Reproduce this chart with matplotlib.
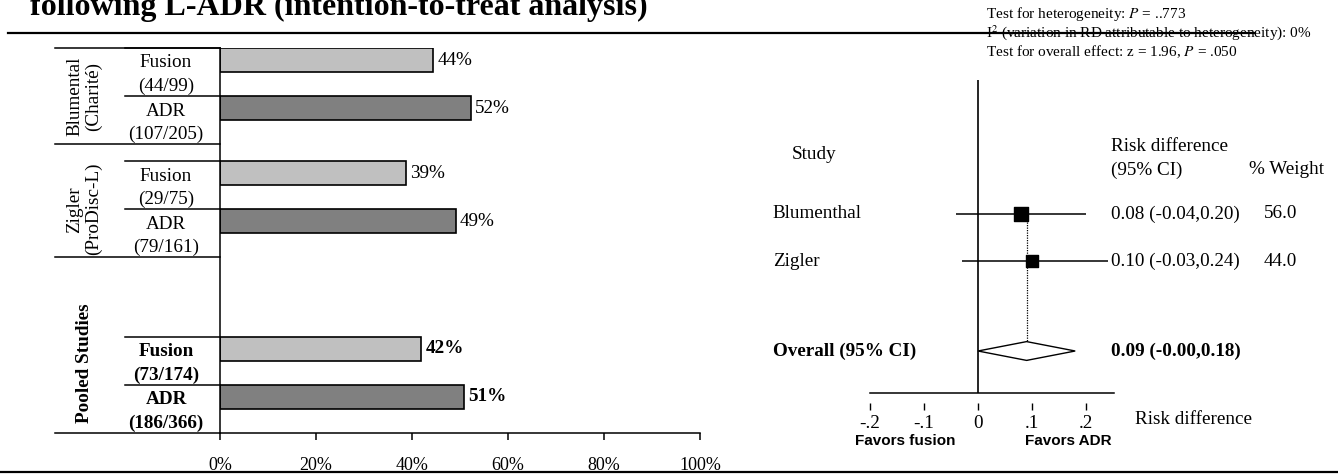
import numpy as np
import matplotlib
matplotlib.use('Agg')
import matplotlib.pyplot as plt
from matplotlib.lines import Line2D
from matplotlib.patches import Polygon

plt.rcParams['font.family'] = ['Liberation Serif', 'DejaVu Serif']
plt.rcParams['mathtext.fontset'] = 'stix'

# ---- bar chart data (intention-to-treat success rates) ----
groups = ['Blumental\n(Charité)', 'Zigler\n(ProDisc-L)', 'Pooled Studies']
arms = ['Fusion', 'ADR']
fusion_events = [44, 29, 73]
fusion_total = [99, 75, 174]
adr_events = [107, 79, 186]
adr_total = [205, 161, 366]
pct_ticks = [0, 20, 40, 60, 80, 100]

# ---- forest plot data (risk difference) ----
studies = ['Blumenthal', 'Zigler']
rd = [0.08, 0.10]
rd_lo = [-0.04, -0.03]
rd_hi = [0.20, 0.24]
weights = [56.0, 44.0]
overall_rd = 0.09
overall_lo = -0.00
overall_hi = 0.18
rd_ticks = [-0.2, -0.1, 0, 0.1, 0.2]
rd_tick_labels = ['-.2', '-.1', '0', '.1', '.2']
het_lines = ['Test for heterogeneity: $P$ = ..773',
             'I$^2$ (variation in RD attributable to heterogeneity): 0%',
             'Test for overall effect: z = 1.96, $P$ = .050']

W, H = 1338, 474
FS = 13.8


def fx(px):
    return px / W


def fy(py):
    return 1 - py / H


fig = plt.figure(figsize=(W / 100, H / 100), dpi=100)

# title (top is cut off in the original)
fig.text(fx(30), fy(15), 'following L-ADR (intention-to-treat analysis)',
         fontsize=23, fontweight='bold', va='baseline', ha='left')
fig.add_artist(Line2D([fx(8), fx(1255)], [fy(33), fy(33)], color='black',
                      lw=1.6, transform=fig.transFigure))
fig.add_artist(Line2D([0, 1], [fy(472), fy(472)], color='black',
                      lw=1.6, transform=fig.transFigure))

# ---------------- left: bar chart ----------------
ax1 = fig.add_axes([fx(220), fy(433), fx(700) - fx(220), fy(48) - fy(433)])
ax1.set_xlim(0, 100)
ax1.set_ylim(8.0, 0)

group_tops = [0.0, 2.35, 6.0]
group_label_y = [1.0, 3.35, 6.55]
bar_h = 0.5

fus_pct = 100 * np.array(fusion_events) / np.array(fusion_total)
adr_pct = 100 * np.array(adr_events) / np.array(adr_total)

ytr = ax1.get_yaxis_transform()
long_lines = [0.0] + [g + 2 for g in group_tops]
for y in long_lines:
    ax1.plot([-0.344, 0], [y, y], color='black', lw=1.1, transform=ytr, clip_on=False)

for gi, g in enumerate(group_tops):
    bold = 'bold' if gi == 2 else 'normal'
    rows = [
        (g, fus_pct[gi], '#c0c0c0', arms[0], fusion_events[gi], fusion_total[gi]),
        (g + 1, adr_pct[gi], '#808080', arms[1], adr_events[gi], adr_total[gi]),
    ]
    for top, val, col, arm, ev, tot in rows:
        ax1.barh(top + bar_h / 2, val, height=bar_h, color=col,
                 edgecolor='black', lw=1.2)
        ax1.text(val + 0.9, top + bar_h / 2, f'{val:.0f}%', va='center',
                 ha='left', fontsize=FS, fontweight=bold)
        ax1.plot([-0.198, 0], [top, top], color='black', lw=1.1,
                 transform=ytr, clip_on=False)
        ax1.text(-0.1125, top + 0.31, arm, transform=ytr, ha='center',
                 va='center', fontsize=FS, fontweight=bold)
        ax1.text(-0.1125, top + 0.8, f'({ev}/{tot})', transform=ytr,
                 ha='center', va='center', fontsize=FS, fontweight=bold)
    ax1.text(-0.283, group_label_y[gi], groups[gi], transform=ytr,
             rotation=90, ha='center', va='center', multialignment='center',
             fontsize=FS, fontweight=bold, linespacing=1.15)

ax1.set_xticks(pct_ticks)
ax1.set_xticklabels([f'{t}%' for t in pct_ticks])
ax1.set_yticks([])
ax1.tick_params(axis='x', direction='out', length=5, width=1.1, pad=12,
                labelsize=FS - 0.8)
for s in ['top', 'right']:
    ax1.spines[s].set_visible(False)
for s in ['left', 'bottom']:
    ax1.spines[s].set_linewidth(1.1)

# ---------------- right: forest plot ----------------
x0_px, px_per = 978, 540
row0_px, row_px = 214, 47


def ry(py):
    # pixel row in the picture -> forest row units
    return 1 + (py - row0_px) / row_px


ax2 = fig.add_axes([fx(760), fy(393), fx(1338) - fx(760), fy(80) - fy(393)])
ax2.set_xlim((760 - x0_px) / px_per, (1338 - x0_px) / px_per)
ax2.set_ylim(ry(393), ry(80))
ax2.set_facecolor('none')

study_rows = [1, 2]
overall_row = ry(351)

ax2.axvline(0, color='black', lw=1.2)
ax2.hlines(study_rows, rd_lo, rd_hi, color='black', lw=1.1)
ax2.scatter(rd, study_rows, marker='s', s=np.array(weights) * 1.8,
            color='black', zorder=3)
ax2.vlines(overall_rd, study_rows[0] - 0.15, overall_row + 0.2, color='black',
           lw=0.9, linestyles=(0, (1, 1)))
dia_h = 0.2
ax2.add_patch(Polygon([[overall_lo, overall_row], [overall_rd, overall_row - dia_h],
                       [overall_hi, overall_row], [overall_rd, overall_row + dia_h]],
                      closed=True, facecolor='white', edgecolor='black', lw=1.0,
                      zorder=3))

# column texts
col_val = 0.246
col_w = col_val + 0.283
ax2.text(-0.344, ry(155), 'Study', fontsize=FS, va='center', ha='left')
ax2.text(col_val, ry(147), 'Risk difference', fontsize=FS, va='center', ha='left')
ax2.text(col_val, ry(170), '(95% CI)', fontsize=FS, va='center', ha='left')
ax2.text(col_w - 0.028, ry(170), '% Weight', fontsize=FS, va='center', ha='left')
for name, y, est, lo, hi, w in zip(studies, study_rows, rd, rd_lo, rd_hi, weights):
    ax2.text(-0.380, y, name, fontsize=FS, va='center', ha='left')
    ax2.text(col_val, y, f'{est:.2f} ({lo:.2f},{hi:.2f})', fontsize=FS,
             va='center', ha='left', zorder=4,
             bbox=dict(facecolor='white', edgecolor='none', pad=0.5))
    ax2.text(col_w, y, f'{w:.1f}', fontsize=FS, va='center', ha='left')
ax2.text(-0.380, overall_row, 'Overall (95% CI)', fontsize=FS, va='center',
         ha='left', fontweight='bold')
ax2.text(col_val, overall_row,
         f'{overall_rd:.2f} (-{abs(overall_lo):.2f},{overall_hi:.2f})',
         fontsize=FS, va='center', ha='left', fontweight='bold')

# axis
for s in ['top', 'right', 'left']:
    ax2.spines[s].set_visible(False)
ax2.spines['bottom'].set_bounds(-0.2, 0.252)
ax2.spines['bottom'].set_linewidth(1.1)
ax2.set_xticks([])
ax2.set_yticks([])
sec = ax2.secondary_xaxis(-0.032)
sec.spines['bottom'].set_visible(False)
sec.set_xticks(rd_ticks)
sec.set_xticklabels(rd_tick_labels)
sec.tick_params(direction='out', length=5, width=1.0, pad=3.5, labelsize=FS)
ax2.text(0.29, ry(420), 'Risk difference', fontsize=FS, va='center', ha='left')
ax2.text(-0.135, ry(441), 'Favors fusion', fontsize=11, fontweight='bold',
         family='Liberation Sans', va='center', ha='center')
ax2.text(0.167, ry(441), 'Favors ADR', fontsize=11, fontweight='bold',
         family='Liberation Sans', va='center', ha='center')

for i, line in enumerate(het_lines):
    fig.text(fx(986), fy(14 + 19 * i), line, fontsize=11, va='center', ha='left')

fig.savefig('out.png', dpi=100)
